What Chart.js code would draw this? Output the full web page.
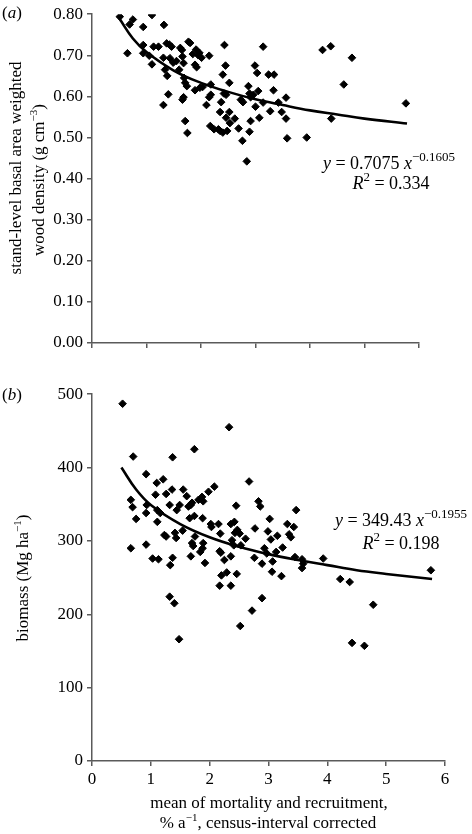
<!DOCTYPE html>
<html>
<head>
<meta charset="utf-8">
<script src="https://cdn.jsdelivr.net/npm/chart.js@4.4.1/dist/chart.umd.min.js"></script>
<style>
  body { margin: 0; background: #fff; }
  #wrap { position: relative; width: 472px; height: 834px; font-family: "Liberation Serif", "Times New Roman", serif; color: #000; }
  canvas { position: absolute; left: 0; }
  .t { position: absolute; white-space: nowrap; font-size: 17px; transform: translate(-50%, -50%); }
  .rot { transform: translate(-50%, -50%) rotate(-90deg); }
  .eq { font-size: 18px; }
  sup { font-size: 11px; vertical-align: 0; position: relative; top: -7px; }
  .eq sup { font-size: 13px; top: -8px; }
</style>
</head>
<body>
<div id="wrap">
  <canvas id="densChart" style="top:0" width="472" height="380"></canvas>
  <canvas id="bioChart" style="top:380px" width="472" height="454"></canvas>

  <div class="t" style="left:12px;top:13px">(<i>a</i>)</div>
  <div class="t" style="left:12px;top:395px">(<i>b</i>)</div>

  <div class="t rot" style="left:16px;top:168px">stand-level basal area weighted</div>
  <div class="t rot" style="left:39px;top:180px">wood density (g cm<sup>−3</sup>)</div>
  <div class="t rot" style="left:23px;top:578px">biomass (Mg ha<sup>−1</sup>)</div>

  <div class="t eq" style="left:389px;top:163px"><i>y</i> = 0.7075 <i>x</i><sup>−0.1605</sup></div>
  <div class="t eq" style="left:391px;top:183px"><i>R</i><sup>2</sup> = 0.334</div>
  <div class="t eq" style="left:401px;top:520px"><i>y</i> = 349.43 <i>x</i><sup>−0.1955</sup></div>
  <div class="t eq" style="left:401px;top:543px"><i>R</i><sup>2</sup> = 0.198</div>

  <div class="t" style="left:269px;top:803px">mean of mortality and recruitment,</div>
  <div class="t" style="left:268px;top:823px">% a<sup>−1</sup>, census-interval corrected</div>
</div>

<script>
// (a) wood density vs turnover
const densX = [0.51,0.69,0.75,0.65,0.94,1.10,0.94,0.94,1.05,1.10,1.13,1.22,1.32,1.31,1.34,1.38,1.31,1.40,1.37,1.42,
  1.46,1.43,1.49,1.55,1.62,1.65,1.60,1.68,1.66,1.69,1.71,1.74,1.68,1.66,1.71,1.75,1.77,1.80,1.85,1.91,
  1.89,1.92,1.97,2.01,1.95,1.89,1.98,2.03,2.10,2.15,2.18,2.15,2.18,2.17,2.24,2.32,2.35,2.40,2.48,2.43,
  2.45,2.40,2.42,2.46,2.37,2.35,2.46,2.52,2.52,2.53,2.62,2.69,2.73,2.77,2.76,2.87,2.84,2.89,2.91,2.89,
  2.91,2.99,3.03,3.05,3.00,3.07,2.96,3.14,3.14,3.24,3.34,3.33,3.27,3.42,3.48,3.56,3.56,3.58,3.94,4.23,
  4.38,4.39,4.62,4.77,5.76];
const densY = [0.794,0.775,0.787,0.705,0.769,0.798,0.725,0.705,0.699,0.678,0.721,0.721,0.774,0.694,0.665,0.650,0.579,0.605,0.729,0.726,
  0.721,0.693,0.682,0.686,0.718,0.713,0.665,0.681,0.697,0.645,0.633,0.625,0.598,0.592,0.540,0.511,0.733,0.730,0.703,0.714,
  0.677,0.671,0.706,0.694,0.700,0.615,0.621,0.623,0.579,0.699,0.629,0.598,0.604,0.528,0.520,0.520,0.516,0.512,0.516,0.725,
  0.675,0.653,0.607,0.604,0.586,0.562,0.548,0.633,0.562,0.535,0.546,0.522,0.592,0.586,0.492,0.625,0.442,0.514,0.540,0.607,
  0.598,0.675,0.657,0.613,0.575,0.548,0.604,0.721,0.585,0.653,0.653,0.615,0.564,0.585,0.562,0.597,0.546,0.498,0.500,0.713,
  0.722,0.546,0.629,0.694,0.583];
// fitted curve
const densFitX = [0.5,0.75,1,1.5,2,2.5,3,3.5,4,4.5,5,5.78];
const densFitY = [0.790,0.741,0.708,0.663,0.633,0.611,0.593,0.579,0.566,0.556,0.546,0.534];

// (b) biomass vs turnover
const bioX = [0.52,2.33,0.70,1.37,1.74,0.66,0.69,0.75,0.66,0.92,0.93,0.92,0.92,1.03,1.13,1.08,1.10,1.11,1.11,1.21,
  1.26,1.23,1.26,1.16,1.32,1.36,1.33,1.32,1.40,1.48,1.37,1.41,1.43,1.44,1.49,1.54,1.55,1.61,1.64,1.66,
  1.68,1.70,1.74,1.70,1.72,1.68,1.75,1.81,1.87,1.89,1.84,1.88,1.89,1.88,1.92,1.98,2.02,2.03,2.08,2.15,
  2.18,2.17,2.19,2.17,2.20,2.25,2.29,2.36,2.38,2.36,2.36,2.41,2.42,2.43,2.45,2.46,2.47,2.51,2.53,2.52,
  2.61,2.67,2.72,2.76,2.77,2.83,2.86,2.89,2.89,2.93,2.97,2.99,3.02,3.04,3.06,3.07,3.13,3.15,3.22,3.24,
  3.32,3.35,3.38,3.43,3.47,3.45,3.57,3.57,3.59,3.93,4.22,4.38,4.42,4.63,4.78,5.76];
const bioY = [487,455,415,414,425,356,346,330,290,391,349,338,295,276,275,363,379,342,326,384,
  364,308,306,338,349,370,267,224,215,166,277,311,304,342,349,314,370,361,347,331,
  349,352,334,297,293,279,306,356,360,354,285,290,297,331,270,367,323,319,374,323,
  310,286,284,239,253,274,257,323,301,279,239,294,326,311,348,255,315,310,294,184,
  303,381,205,277,317,354,347,222,269,290,283,313,330,302,258,272,285,307,252,291,
  323,309,305,319,342,278,275,263,269,276,248,244,161,157,213,260];
const bioFitX = [0.5,0.75,1,1.5,2,2.5,3,3.5,4,4.5,5,5.78];
const bioFitY = [400,370,349,323,305,292,282,274,267,260,255,248];

const serif = "'Liberation Serif', 'Times New Roman', serif";
const axisGrey = "#5a5a5a";

function pairs(xs, ys) {
  return xs.map((x, i) => ({ x: x, y: ys[i] }));
}

function makeChart(id, pts, fit, yOpts, showXLabels, plotTop, xAxisHeight, padRight) {
  const ctx = document.getElementById(id).getContext("2d");
  return new Chart(ctx, {
    type: "scatter",
    data: {
      datasets: [
        {
          data: pts,
          pointStyle: "rectRot",
          pointRadius: 3.8,
          backgroundColor: "#000",
          borderColor: "#000",
          borderWidth: 1
        },
        {
          data: fit,
          showLine: true,
          tension: 0.4,
          pointRadius: 0,
          borderColor: "#000",
          borderWidth: 2.6,
          fill: false
        }
      ]
    },
    options: {
      responsive: false,
      animation: false,
      layout: { padding: { top: plotTop, right: padRight, left: 0, bottom: 0 } },
      plugins: { legend: { display: false }, tooltip: { enabled: false } },
      scales: {
        x: {
          type: "linear",
          min: 0, max: 6,
          ticks: {
            stepSize: 1,
            display: showXLabels,
            color: "#000",
            padding: 3,
            font: { family: serif, size: 17 }
          },
          grid: { drawOnChartArea: false, drawTicks: true, tickLength: 5, color: axisGrey, lineWidth: 1.5 },
          border: { display: true, color: axisGrey, width: 1.5 },
          afterFit: s => { s.height = xAxisHeight; }
        },
        y: {
          type: "linear",
          min: yOpts.min, max: yOpts.max,
          ticks: {
            stepSize: yOpts.step,
            color: "#000",
            padding: 4,
            font: { family: serif, size: 17 },
            callback: yOpts.fmt
          },
          grid: { drawOnChartArea: false, drawTicks: true, tickLength: 5, color: axisGrey, lineWidth: 1.5 },
          border: { display: true, color: axisGrey, width: 1.5 },
          afterFit: s => { s.width = 92; }
        }
      }
    }
  });
}

makeChart("densChart", pairs(densX, densY), pairs(densFitX, densFitY),
  { min: 0, max: 0.8, step: 0.1, fmt: v => v.toFixed(2) }, false, 10, 380 - 343, 53);

makeChart("bioChart", pairs(bioX, bioY), pairs(bioFitX, bioFitY),
  { min: 0, max: 500, step: 100, fmt: v => String(v) }, true, 14, 834 - 761, 27);
</script>
</body>
</html>
